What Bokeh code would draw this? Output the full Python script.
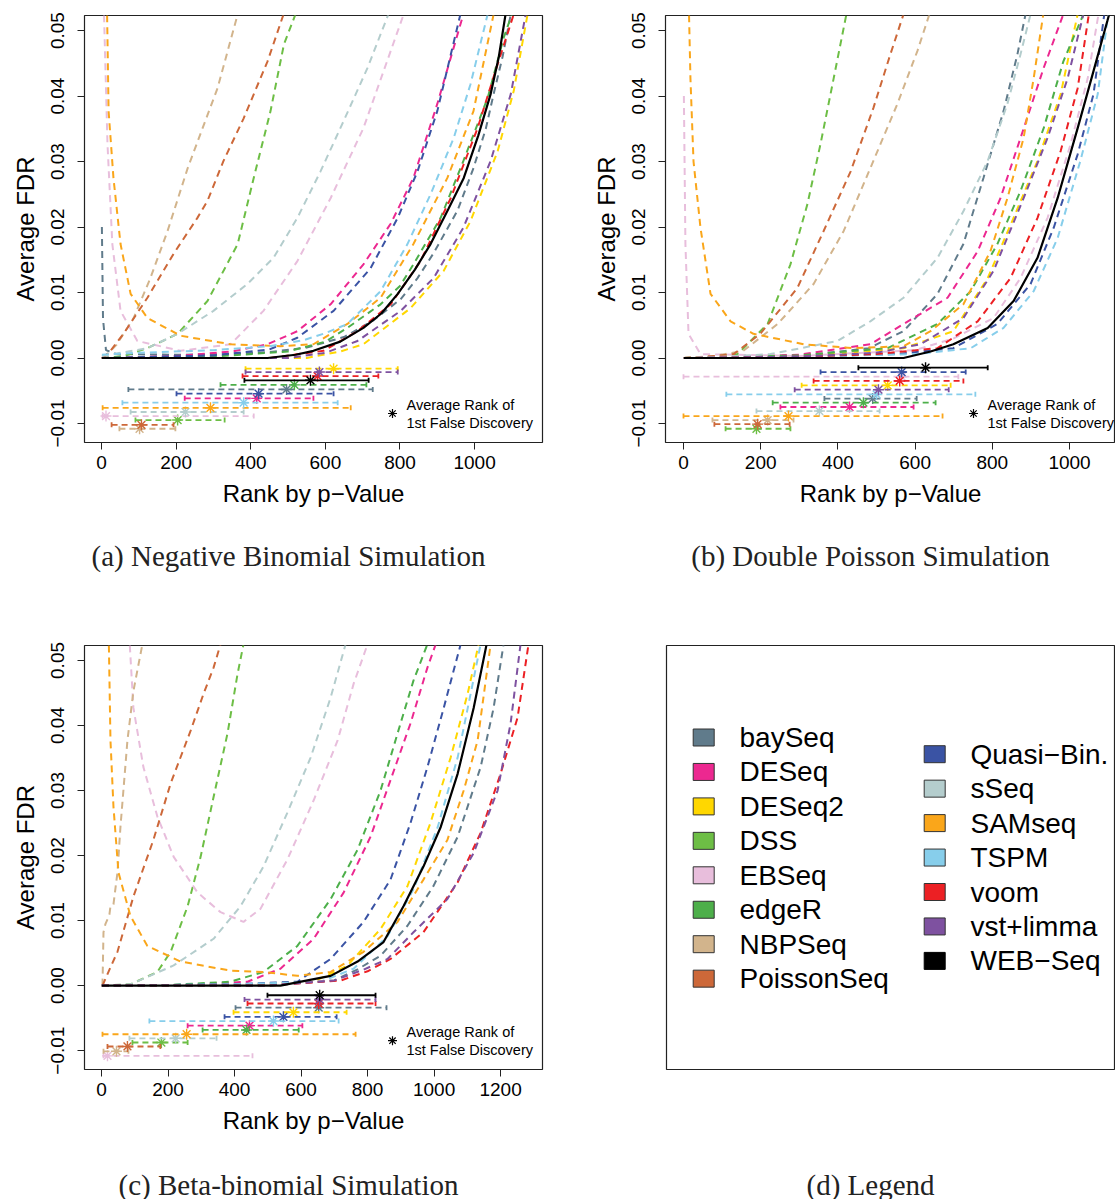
from bokeh.plotting import figure
from bokeh.models import Range1d, FixedTicker, Label, CustomJSTickFormatter
from bokeh.layouts import row, column
from bokeh.core.properties import value
from bokeh.embed import file_html
from bokeh.resources import INLINE

# ---------------- categories / colours ----------------
METHODS = ["baySeq", "DESeq", "DESeq2", "DSS", "EBSeq", "edgeR", "NBPSeq", "PoissonSeq",
           "Quasi-Bin.", "sSeq", "SAMseq", "TSPM", "voom", "vst+limma", "WEB-Seq"]
LEGEND_LABELS = ["baySeq", "DESeq", "DESeq2", "DSS", "EBSeq", "edgeR", "NBPSeq", "PoissonSeq",
                 "Quasi\u2212Bin.", "sSeq", "SAMseq", "TSPM", "voom", "vst+limma", "WEB\u2212Seq"]
COLORS = ["#607B8B", "#EC2890", "#FFD700", "#6DBE45", "#E8BEDC", "#4DAF4A", "#D2B48C", "#CD6839",
          "#3A53A4", "#B4CDCD", "#FAA61A", "#87CEEB", "#EC2024", "#7E51A0", "#000000"]
CAPTIONS = ["(a) Negative Binomial Simulation", "(b) Double Poisson Simulation",
            "(c) Beta-binomial Simulation", "(d) Legend"]

Y_TICKS = [-0.01, 0.0, 0.01, 0.02, 0.03, 0.04, 0.05]
X_TICKS_AB = [0, 200, 400, 600, 800, 1000]
X_TICKS_C = [0, 200, 400, 600, 800, 1000, 1200]

# ---------------- (a) Negative Binomial: FDR curves (rank, avg FDR) ----------------
NB_BAYSEQ = [(1, 0.020), (4, 0.006), (12, 0.0012), (40, 0.0006), (200, 0.0005), (350, 0.0006), (450, 0.0009),
             (550, 0.0016), (650, 0.0032), (730, 0.0058), (802, 0.0090), (847, 0.0122), (890, 0.0160),
             (954, 0.0225), (997, 0.029), (1030, 0.035), (1051, 0.0403), (1075, 0.046), (1097, 0.0525)]
NB_DESEQ = [(1, 0.0), (200, 0.0003), (350, 0.001), (445, 0.0021), (525, 0.0041), (614, 0.0082), (702, 0.0143),
            (775, 0.0205), (836, 0.0275), (900, 0.0388), (970, 0.0525)]
NB_DESEQ2 = [(1, 0.0), (550, 0.0), (640, 0.001), (702, 0.0021), (828, 0.0076), (917, 0.0133), (989, 0.0209),
             (1062, 0.0316), (1105, 0.0408), (1142, 0.0525)]
NB_DSS = [(1, 0.0), (60, 0.0003), (123, 0.0015), (204, 0.0037), (284, 0.0087), (365, 0.0174), (408, 0.0275),
          (453, 0.0377), (489, 0.0479), (520, 0.0525)]
NB_EBSEQ = [(5, 0.056), (16, 0.0327), (29, 0.0174), (51, 0.0072), (96, 0.0026), (212, 0.0011), (346, 0.0021),
            (434, 0.0072), (525, 0.0148), (614, 0.0244), (702, 0.0351), (810, 0.0525)]
NB_EDGER = [(1, 0.0), (300, 0.0002), (500, 0.001), (600, 0.0025), (659, 0.0046), (748, 0.0082), (800, 0.011),
            (836, 0.0143), (909, 0.0214), (970, 0.0301), (1035, 0.0397), (1078, 0.0489), (1100, 0.0525)]
NB_NBPSEQ = [(5, 0.0), (40, 0.002), (86, 0.0061), (131, 0.0122), (177, 0.0194), (231, 0.029), (265, 0.0342),
             (311, 0.0412), (365, 0.0525)]
NB_POISSONSEQ = [(1, 0.0), (20, 0.0008), (59, 0.0037), (123, 0.0092), (193, 0.0159), (257, 0.0214),
                 (284, 0.024), (327, 0.0301), (381, 0.0366), (445, 0.0453), (488, 0.0525)]
NB_QUASI = [(1, 0.0), (300, 0.0004), (450, 0.0013), (525, 0.0031), (622, 0.0072), (721, 0.0137), (794, 0.0214),
            (847, 0.0285), (900, 0.0377), (962, 0.0525)]
NB_SSEQ = [(1, 0.0003), (32, 0.0006), (123, 0.0015), (204, 0.0037), (300, 0.0072), (391, 0.0113), (461, 0.0153),
           (525, 0.0214), (587, 0.0285), (649, 0.0362), (713, 0.0443), (769, 0.0525)]
NB_SAMSEQ = [(14, 0.056), (19, 0.0377), (32, 0.0275), (51, 0.0174), (78, 0.0098), (123, 0.0061), (212, 0.0034),
             (346, 0.0021), (480, 0.0018), (568, 0.0021), (659, 0.0052), (748, 0.0092), (836, 0.0174),
             (927, 0.0275), (997, 0.0377), (1051, 0.0525)]
NB_TSPM = [(1, 0.0005), (100, 0.0008), (300, 0.0012), (450, 0.0018), (540, 0.0027), (600, 0.0038), (659, 0.0052),
           (748, 0.0102), (820, 0.0174), (882, 0.025), (944, 0.0336), (989, 0.0418), (1035, 0.0525)]
NB_VOOM = [(1, 0.0), (450, 0.0), (595, 0.0011), (686, 0.0041), (775, 0.0082), (855, 0.0148), (936, 0.0244),
           (1008, 0.0351), (1062, 0.0449), (1105, 0.0525)]
NB_VST = [(1, 0.0), (500, 0.0), (600, 0.0008), (686, 0.0026), (802, 0.0072), (890, 0.0122), (970, 0.0199),
          (1043, 0.0301), (1097, 0.0403), (1137, 0.0525)]
NB_WEB = [(1, 0.0), (200, 0.0), (445, 0.0), (520, 0.0005), (568, 0.0011), (640, 0.0025), (702, 0.0046),
          (750, 0.0068), (794, 0.0098), (840, 0.0135), (882, 0.0174), (930, 0.0228), (971, 0.0275),
          (1010, 0.034), (1043, 0.0403), (1065, 0.046), (1083, 0.0525)]

# error bars (a): order = METHODS
NB_BAR_Y = [-0.0048, -0.00616, -0.00163, -0.00947, -0.00886, -0.0041, -0.0108, -0.0102,
            -0.00545, -0.00824, -0.0076, -0.00682, -0.00275, -0.00214, -0.0034]
NB_BAR_LO = [72, 223, 386, 91, 3, 319, 48, 27, 201, 78, 3, 56, 378, 386, 383]
NB_BAR_HI = [727, 568, 794, 330, 408, 710, 198, 193, 622, 381, 668, 633, 742, 794, 716]
NB_FIRST_FD = [496, 416, 622, 204, 12, 517, 102, 107, 421, 225, 292, 381, 579, 584, 560]

# ---------------- (b) Double Poisson ----------------
DP_BAYSEQ = [(1, 0.0), (300, 0.0003), (480, 0.0015), (570, 0.0041), (658, 0.0098), (725, 0.0174), (777, 0.0275),
             (829, 0.0377), (865, 0.0464), (886, 0.0525)]
DP_DESEQ = [(1, 0.0), (300, 0.0005), (484, 0.0021), (570, 0.0052), (684, 0.0092), (762, 0.0163), (821, 0.0244),
            (873, 0.0336), (933, 0.0443), (984, 0.0525)]
DP_DESEQ2 = [(1, 0.0), (300, 0.0002), (570, 0.0015), (699, 0.0041), (788, 0.0122), (855, 0.0214), (917, 0.0301),
             (977, 0.0403), (1021, 0.0525)]
DP_DSS = [(1, 0.0), (70, 0.0002), (140, 0.0006), (218, 0.0052), (277, 0.0143), (321, 0.0235), (355, 0.0327),
          (389, 0.0427), (422, 0.0525)]
DP_EBSEQ = [(1, 0.040), (5, 0.0174), (13, 0.0037), (44, 0.0006), (300, 0.0003), (600, 0.0012), (700, 0.0030),
            (803, 0.0061), (873, 0.0122), (943, 0.0214), (1003, 0.0327), (1047, 0.0427), (1075, 0.0525)]
DP_EDGER = [(1, 0.0), (300, 0.0004), (528, 0.0015), (658, 0.0052), (744, 0.0102), (813, 0.0174), (873, 0.0255),
            (933, 0.0351), (984, 0.0453), (1036, 0.0525)]
DP_NBPSEQ = [(1, 0.0), (80, 0.0003), (155, 0.0011), (244, 0.0052), (337, 0.0113), (415, 0.0194), (484, 0.029),
             (554, 0.0388), (606, 0.0469), (637, 0.0525)]
DP_POISSONSEQ = [(1, 0.0), (60, 0.0002), (130, 0.0006), (199, 0.0037), (295, 0.0107), (363, 0.0194),
                 (433, 0.0285), (492, 0.0382), (536, 0.0464), (570, 0.0525)]
DP_QUASI = [(1, 0.0), (300, 0.0002), (550, 0.0006), (699, 0.0015), (813, 0.0052), (899, 0.0113), (959, 0.0199),
            (1021, 0.0311), (1062, 0.0403), (1090, 0.0525)]
DP_SSEQ = [(1, 0.0), (100, 0.0002), (225, 0.0006), (399, 0.0026), (484, 0.0056), (570, 0.0092), (658, 0.0153),
           (725, 0.0224), (788, 0.0301), (839, 0.0388), (873, 0.0464), (899, 0.0525)]
DP_SAMSEQ = [(13, 0.056), (18, 0.0427), (26, 0.030), (44, 0.0199), (70, 0.0098), (122, 0.0056), (181, 0.0037),
             (311, 0.0021), (440, 0.0015), (570, 0.0018), (640, 0.0041), (725, 0.0082), (795, 0.0163),
             (839, 0.0244), (881, 0.0336), (907, 0.0427), (932, 0.0525)]
DP_TSPM = [(1, 0.0), (300, 0.0002), (600, 0.0006), (744, 0.0015), (829, 0.0046), (907, 0.0102), (969, 0.0183),
           (1028, 0.0301), (1073, 0.0403), (1100, 0.0525)]
DP_VOOM = [(1, 0.0), (300, 0.0002), (500, 0.0006), (658, 0.0015), (762, 0.0056), (847, 0.0122), (917, 0.0214),
           (977, 0.0316), (1021, 0.0412), (1050, 0.0525)]
DP_VST = [(1, 0.0), (300, 0.0002), (500, 0.0008), (614, 0.0021), (725, 0.0061), (803, 0.0133), (881, 0.0244),
          (943, 0.0336), (995, 0.0427), (1036, 0.0525)]
DP_WEB = [(1, 0.0), (300, 0.0), (570, 0.0), (640, 0.001), (699, 0.0021), (788, 0.0046), (855, 0.0087),
          (917, 0.0153), (969, 0.0244), (1021, 0.0351), (1062, 0.0438), (1098, 0.0515), (1105, 0.053)]

DP_BAR_Y = [-0.0062, -0.00748, -0.00417, -0.0108, -0.00285, -0.00682, -0.00947, -0.0101,
            -0.00214, -0.0081, -0.00886, -0.00555, -0.0035, -0.00484, -0.00148]
DP_BAR_LO = [365, 251, 306, 109, 0, 231, 75, 80, 355, 189, 0, 111, 337, 288, 453]
DP_BAR_HI = [604, 596, 692, 277, 712, 653, 285, 275, 731, 508, 671, 756, 725, 687, 788]
DP_FIRST_FD = [490, 430, 529, 189, 565, 466, 218, 192, 565, 352, 272, 500, 560, 505, 627]

# ---------------- (c) Beta-binomial ----------------
BB_BAYSEQ = [(1, 0.0), (500, 0.0), (700, 0.0008), (770, 0.0025), (839, 0.0046), (920, 0.0092), (998, 0.0153),
             (1071, 0.0229), (1140, 0.0336), (1179, 0.0427), (1209, 0.0525)]
BB_DESEQ = [(1, 0.0), (250, 0.0001), (439, 0.0006), (538, 0.0026), (638, 0.0072), (728, 0.0143), (809, 0.0229),
            (869, 0.0316), (929, 0.0403), (980, 0.0489), (1005, 0.0525)]
BB_DESEQ2 = [(1, 0.0), (400, 0.0001), (638, 0.0006), (740, 0.0031), (839, 0.0087), (920, 0.0153), (989, 0.025),
             (1050, 0.0351), (1101, 0.0449), (1134, 0.0525)]
BB_DSS = [(1, 0.0), (87, 0.0002), (168, 0.0021), (208, 0.0052), (259, 0.0122), (298, 0.0198), (337, 0.029),
          (379, 0.0388), (409, 0.0479), (427, 0.0525)]
BB_EBSEQ = [(81, 0.056), (96, 0.0427), (126, 0.0336), (168, 0.026), (217, 0.0198), (289, 0.0143), (358, 0.0113),
            (427, 0.0098), (478, 0.0118), (559, 0.0194), (638, 0.0285), (710, 0.0377), (758, 0.0464),
            (800, 0.0525)]
BB_EDGER = [(1, 0.0), (200, 0.0001), (388, 0.0006), (487, 0.0021), (589, 0.0061), (689, 0.0133), (770, 0.0209),
            (839, 0.030), (899, 0.0403), (938, 0.0469), (980, 0.0525)]
BB_NBPSEQ = [(3, 0.0), (6, 0.0082), (12, 0.0095), (18, 0.0102), (24, 0.011), (27, 0.0122), (36, 0.0125),
             (48, 0.0174), (57, 0.0244), (78, 0.0377), (96, 0.0453), (123, 0.0525)]
BB_POISSONSEQ = [(3, 0.0), (20, 0.002), (48, 0.0052), (96, 0.0137), (156, 0.0224), (208, 0.0311), (268, 0.0392),
                 (307, 0.0449), (337, 0.0489), (358, 0.0525)]
BB_QUASI = [(1, 0.0), (400, 0.0002), (589, 0.0006), (689, 0.0041), (788, 0.0098), (869, 0.0163), (929, 0.025),
            (980, 0.0336), (1029, 0.0427), (1080, 0.0525)]
BB_SSEQ = [(1, 0.0), (87, 0.0002), (217, 0.0031), (337, 0.0072), (418, 0.0122), (487, 0.0183), (559, 0.0266),
           (629, 0.0351), (689, 0.0443), (734, 0.0525)]
BB_SAMSEQ = [(21, 0.056), (27, 0.0377), (36, 0.0275), (51, 0.0174), (87, 0.0107), (138, 0.0061), (238, 0.0037),
             (388, 0.0023), (487, 0.0021), (589, 0.0015), (689, 0.0021), (788, 0.0052), (890, 0.0098),
             (968, 0.0163), (1040, 0.0224), (1089, 0.030), (1131, 0.0377), (1170, 0.0525)]
BB_TSPM = [(1, 0.0), (400, 0.0002), (659, 0.0006), (758, 0.0026), (860, 0.0076), (938, 0.0148), (1011, 0.0244),
           (1071, 0.0351), (1110, 0.0449), (1140, 0.0525)]
BB_VOOM = [(1, 0.0), (500, 0.0), (720, 0.0008), (800, 0.0022), (869, 0.0041), (968, 0.0082), (1071, 0.0159),
           (1140, 0.0235), (1200, 0.0326), (1251, 0.0412), (1284, 0.0525)]
BB_VST = [(1, 0.0), (500, 0.0), (700, 0.0008), (790, 0.0025), (860, 0.0041), (938, 0.0082), (1040, 0.0133),
          (1119, 0.0204), (1191, 0.030), (1230, 0.0403), (1260, 0.0525)]
BB_WEB = [(1, 0.0), (300, 0.0), (538, 0.0), (689, 0.0015), (770, 0.0037), (848, 0.0067), (908, 0.0122),
          (968, 0.0183), (1020, 0.0244), (1071, 0.0326), (1119, 0.0427), (1158, 0.0525)]

BB_BAR_Y = [-0.0034, -0.00616, -0.0041, -0.00875, -0.0108, -0.00682, -0.0101, -0.00936,
            -0.0048, -0.0081, -0.00748, -0.00545, -0.00275, -0.00214, -0.00148]
BB_BAR_LO = [403, 259, 397, 93, 6, 304, 6, 18, 370, 84, 3, 144, 439, 430, 499]
BB_BAR_HI = [857, 604, 737, 259, 454, 593, 81, 177, 707, 346, 764, 713, 824, 824, 824]
BB_FIRST_FD = [653, 445, 577, 180, 18, 436, 45, 78, 547, 223, 256, 517, 653, 656, 656]

NB_CURVES = [NB_BAYSEQ, NB_DESEQ, NB_DESEQ2, NB_DSS, NB_EBSEQ, NB_EDGER, NB_NBPSEQ, NB_POISSONSEQ,
             NB_QUASI, NB_SSEQ, NB_SAMSEQ, NB_TSPM, NB_VOOM, NB_VST, NB_WEB]
DP_CURVES = [DP_BAYSEQ, DP_DESEQ, DP_DESEQ2, DP_DSS, DP_EBSEQ, DP_EDGER, DP_NBPSEQ, DP_POISSONSEQ,
             DP_QUASI, DP_SSEQ, DP_SAMSEQ, DP_TSPM, DP_VOOM, DP_VST, DP_WEB]
BB_CURVES = [BB_BAYSEQ, BB_DESEQ, BB_DESEQ2, BB_DSS, BB_EBSEQ, BB_EDGER, BB_NBPSEQ, BB_POISSONSEQ,
             BB_QUASI, BB_SSEQ, BB_SAMSEQ, BB_TSPM, BB_VOOM, BB_VST, BB_WEB]

# ---------------- styling ----------------
SANS = "Liberation Sans"
SERIF = "Liberation Serif"
Y_RANGE = (-0.0129, 0.0523)
FRAME_H = 427
PANEL_H = 520


def panel(curves, bar_y, bar_lo, bar_hi, first_fd, x_range, x_ticks, width, left, right):
    bottom = PANEL_H - 15 - FRAME_H
    p = figure(width=width, height=PANEL_H, x_range=Range1d(*x_range), y_range=Range1d(*Y_RANGE),
               output_backend="svg", toolbar_location=None,
               min_border_left=left, min_border_right=right, min_border_top=15, min_border_bottom=bottom)
    p.grid.visible = False
    p.outline_line_color = "#222222"
    p.outline_line_width = 1.2
    p.background_fill_color = "white"
    p.border_fill_color = "white"

    # curves
    for pts, color, name in zip(curves, COLORS, METHODS):
        xs = [a for a, _ in pts]
        ys = [b for _, b in pts]
        if name == "WEB-Seq":
            p.line(xs, ys, line_color=color, line_width=2.2)
        else:
            p.line(xs, ys, line_color=color, line_width=2, line_dash="7 5")

    # error bars with first false discovery markers
    cap = (Y_RANGE[1] - Y_RANGE[0]) / FRAME_H * 2.5
    for i, (color, name) in enumerate(zip(COLORS, METHODS)):
        dash = "solid" if name == "WEB-Seq" else "6 4"
        y = bar_y[i]
        p.segment(x0=[bar_lo[i]], y0=[y], x1=[bar_hi[i]], y1=[y], line_color=color, line_width=1.8,
                  line_dash=dash)
        p.segment(x0=[bar_lo[i], bar_hi[i]], y0=[y - cap, y - cap], x1=[bar_lo[i], bar_hi[i]],
                  y1=[y + cap, y + cap], line_color=color, line_width=1.8)
        p.scatter([first_fd[i]], [y], marker="asterisk", size=11, line_color=color, line_width=1.4)

    # inset key
    fw = width - left - right
    xs0 = x_range[0] + 308.0 / fw * (x_range[1] - x_range[0])
    ys0 = Y_RANGE[0] + 29.0 / FRAME_H * (Y_RANGE[1] - Y_RANGE[0])
    p.scatter([xs0], [ys0], marker="asterisk", size=9, line_color="black", line_width=1.2)
    for txt, yy in (("Average Rank of", 38), ("1st False Discovery", 20)):
        p.add_layout(Label(x=322, y=yy, x_units="screen", y_units="screen", text=txt,
                           text_font=SANS, text_font_size="14.5px", text_baseline="middle",
                           text_color="black"))

    # axes
    xa = p.xaxis[0]
    xa.ticker = FixedTicker(ticks=x_ticks)
    xa.axis_label = "Rank by p\u2212Value"
    ya = p.yaxis[0]
    ya.ticker = FixedTicker(ticks=Y_TICKS)
    ya.formatter = CustomJSTickFormatter(
        code="return (tick < -1e-9 ? '\u2212' : '') + Math.abs(tick).toFixed(2);")
    ya.axis_label = "Average FDR"
    ya.major_label_orientation = "vertical"
    for ax in (xa, ya):
        ax.axis_line_color = None
        ax.major_tick_out = 7
        ax.major_tick_in = 0
        ax.minor_tick_out = 0
        ax.minor_tick_in = 0
        ax.major_tick_line_color = "#222222"
        ax.major_label_text_font = SANS
        ax.major_label_text_font_size = "19px"
        ax.major_label_text_color = "black"
        ax.axis_label_text_font = SANS
        ax.axis_label_text_font_size = "24px"
        ax.axis_label_text_font_style = "normal"
        ax.axis_label_text_color = "black"
    xa.major_label_standoff = 6
    xa.axis_label_standoff = 8
    ya.major_label_standoff = 13
    ya.axis_label_standoff = 10
    return p


def caption_fig(text, width, height, cx, cy_from_top):
    f = figure(width=width, height=height, x_range=Range1d(0, width), y_range=Range1d(0, height),
               x_axis_type=None, y_axis_type=None, output_backend="svg", toolbar_location=None,
               min_border=0, min_border_left=0, min_border_right=0, min_border_top=0, min_border_bottom=0)
    f.grid.visible = False
    f.outline_line_color = None
    f.border_fill_color = "white"
    f.background_fill_color = "white"
    f.text(x=[cx], y=[height - cy_from_top], text=[text], text_align="center", text_baseline="middle",
           text_font=value(SERIF), text_font_size=value("29px"), text_color="#222222")
    return f


pa = panel(NB_CURVES, NB_BAR_Y, NB_BAR_LO, NB_BAR_HI, NB_FIRST_FD, (-45.6, 1182.0), X_TICKS_AB, 557, 84, 15)
pb = panel(DP_CURVES, DP_BAR_Y, DP_BAR_LO, DP_BAR_HI, DP_FIRST_FD, (-46.6, 1119.0), X_TICKS_AB, 558, 108, 0)
pc = panel(BB_CURVES, BB_BAR_Y, BB_BAR_LO, BB_BAR_HI, BB_FIRST_FD, (-51.1, 1326.0), X_TICKS_C, 557, 84, 15)

# ---------------- (d) legend panel ----------------
LEG_W, LEG_H = 449, 424
pd = figure(width=558, height=PANEL_H, x_range=Range1d(0, LEG_W), y_range=Range1d(0, LEG_H),
            x_axis_type=None, y_axis_type=None, output_backend="svg", toolbar_location=None,
            min_border_left=109, min_border_right=0, min_border_top=15,
            min_border_bottom=PANEL_H - 15 - LEG_H)
pd.grid.visible = False
pd.outline_line_color = "#222222"
pd.outline_line_width = 1.2
pd.border_fill_color = "white"
ROW_STEP = 34.45
for i, (lab, color) in enumerate(zip(LEGEND_LABELS, COLORS)):
    if i < 8:
        sx, tx, sy = 37.2, 73, 332 - i * ROW_STEP
    else:
        sx, tx, sy = 268.2, 304, 315.3 - (i - 8) * ROW_STEP
    pd.rect(x=[sx], y=[sy], width=21, height=17, fill_color=color,
            line_color="#333333" if color != "#000000" else "#000000", line_width=1)
    pd.text(x=[tx], y=[sy], text=[lab], text_font=value(SANS), text_font_size=value("28px"),
            text_baseline="middle", text_align="left", text_color="black")

CAP1_H = 630 - PANEL_H
CAP2_H = 1199 - 630 - PANEL_H
ca = caption_fig(CAPTIONS[0], 557, CAP1_H, 288, 555 - PANEL_H)
cb = caption_fig(CAPTIONS[1], 558, CAP1_H, 870 - 557, 555 - PANEL_H)
cc = caption_fig(CAPTIONS[2], 557, CAP2_H, 288, 1184 - 630 - PANEL_H)
cd = caption_fig(CAPTIONS[3], 558, CAP2_H, 870 - 557, 1184 - 630 - PANEL_H)

layout = column(row(pa, pb), row(ca, cb), row(pc, pd), row(cc, cd))
open("out.html", "w").write(file_html(layout, INLINE))
